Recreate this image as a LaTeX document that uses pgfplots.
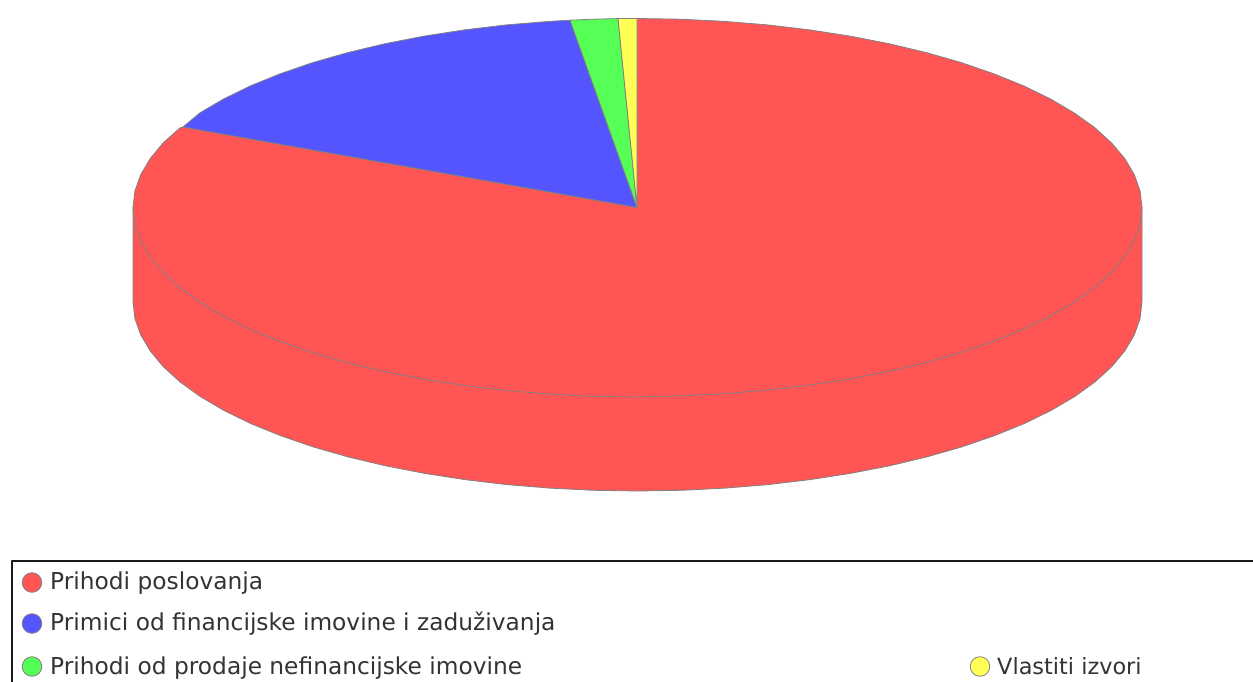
\documentclass[border=0pt]{standalone}
\usepackage{fontspec}
\setmainfont{DejaVu Sans}
\usepackage{pgfplots}
\pgfplotsset{compat=1.18}
\definecolor{pr}{RGB}{255,85,85}
\definecolor{pb}{RGB}{85,85,255}
\definecolor{pg}{RGB}{85,255,85}
\definecolor{py}{RGB}{255,255,85}
\definecolor{edge}{RGB}{128,128,128}
\tikzset{lab/.style={anchor=base west, font=\fontsize{23.3}{27}\selectfont, text=black!80, inner sep=0pt}}
\begin{document}
\begin{tikzpicture}
\useasboundingbox (0,0) rectangle (1253pt,682pt);
\begin{axis}[
  at={(0,0)}, anchor=south west,
  scale only axis, width=1253pt, height=682pt,
  xmin=0, xmax=1253, ymin=-0.5, ymax=681.5, y dir=reverse,
  hide axis, clip=true,
  every axis plot/.append style={line width=0.8pt, line join=round},
]
% side wall
\addplot[draw=edge, fill=pr] coordinates {
(133,207)(133,301)(134.9,318)(140.7,334.3)(150.2,350.4)(163.2,366.1)(180,381.4)(200.2,396)(223.8,409.9)(250.6,423)(280.4,435.1)(312.9,446.3)(347.8,456.3)(385,465.2)(424.1,472.8)(464.8,479.1)(506.8,484.1)(549.8,487.6)(593.5,489.8)(637.5,490.5)
(681.5,489.8)(725.2,487.6)(768.2,484.1)(810.2,479.1)(850.9,472.8)(890,465.2)(927.2,456.3)(962.1,446.3)(994.6,435.1)(1024.4,423)(1051.2,409.9)(1074.8,396)(1095,381.4)(1111.8,366.1)(1124.8,350.4)(1134.3,334.3)(1140.1,318)(1142,301)(1142,207)
} -- cycle;
% red wedge
\addplot[draw=edge, fill=pr] coordinates {
(637,207)(637,18)(681,18.7)(724.7,20.9)(767.7,24.4)(809.7,29.4)(850.4,35.7)(889.5,43.3)(926.7,52.2)(961.6,62.2)(994.1,73.4)(1023.9,85.5)(1050.7,98.6)(1074.3,112.5)(1094.7,127.1)(1111.5,142.4)(1124.8,158.1)(1134.3,174.2)(1140.1,190.5)(1142,207)
(1140.1,223.5)(1134.3,239.8)(1124.8,255.9)(1111.5,271.6)(1094.7,286.9)(1074.3,301.5)(1050.7,315.4)(1023.9,328.5)(994.1,340.6)(961.6,351.8)(926.7,361.8)(889.5,370.7)(850.4,378.3)(809.7,384.6)(767.7,389.6)(724.7,393.1)(681,395.3)(637,396.5)
(593,395.8)(549.8,393.6)(506.8,390.1)(464.8,385.1)(424.1,378.8)(385,371.2)(347.8,362.3)(312.9,352.3)(280.4,341.1)(250.6,329)(223.8,315.9)(200.2,302)(180,287.4)(163.2,272.1)(150.2,256.4)(140.7,240.3)(134.9,224)(133,207)
(134.9,190.5)(140.7,174.2)(150.2,158.1)(163.2,142.4)(180,127.4)(183,126.5)
} -- cycle;
% blue wedge
\addplot[draw=edge, fill=pb] coordinates {
(637,207)(183,126.5)(199.7,112.5)(223.3,98.6)(250.1,85.5)(279.9,73.4)(312.4,62.2)(347.3,52.2)(384.5,43.3)(423.6,35.7)(464.3,29.4)(506.3,24.4)(549.3,20.9)(570,19.7)
} -- cycle;
% green wedge
\addplot[draw=edge, fill=pg] coordinates {
(637,207)(570,19.7)(593,18.7)(618,18.1)
} -- cycle;
% yellow wedge
\addplot[draw=edge, fill=py] coordinates {
(637,207)(618,18.1)(637,18)
} -- cycle;
% legend frame
\addplot[draw=black!90, line width=2pt] coordinates {(1270,560)(12,560)(12,700)};
% legend markers
\addplot[only marks, mark=*, mark size=9.8pt, mark options={draw=edge, fill=pr}] coordinates {(32,582)};
\addplot[only marks, mark=*, mark size=9.8pt, mark options={draw=edge, fill=pb}] coordinates {(32,623)};
\addplot[only marks, mark=*, mark size=9.8pt, mark options={draw=edge, fill=pg}] coordinates {(32,666)};
\addplot[only marks, mark=*, mark size=9.8pt, mark options={draw=edge, fill=py}] coordinates {(980,666)};
\node[lab] at (axis cs:50,589) {Prihodi poslovanja};
\node[lab] at (axis cs:50,630) {Primici od financijske imovine i zaduživanja};
\node[lab] at (axis cs:50,674) {Prihodi od prodaje nefinancijske imovine};
\node[lab, font=\fontsize{22.4}{27}\selectfont] at (axis cs:997,674) {Vlastiti izvori};
\end{axis}
\end{tikzpicture}
\end{document}
